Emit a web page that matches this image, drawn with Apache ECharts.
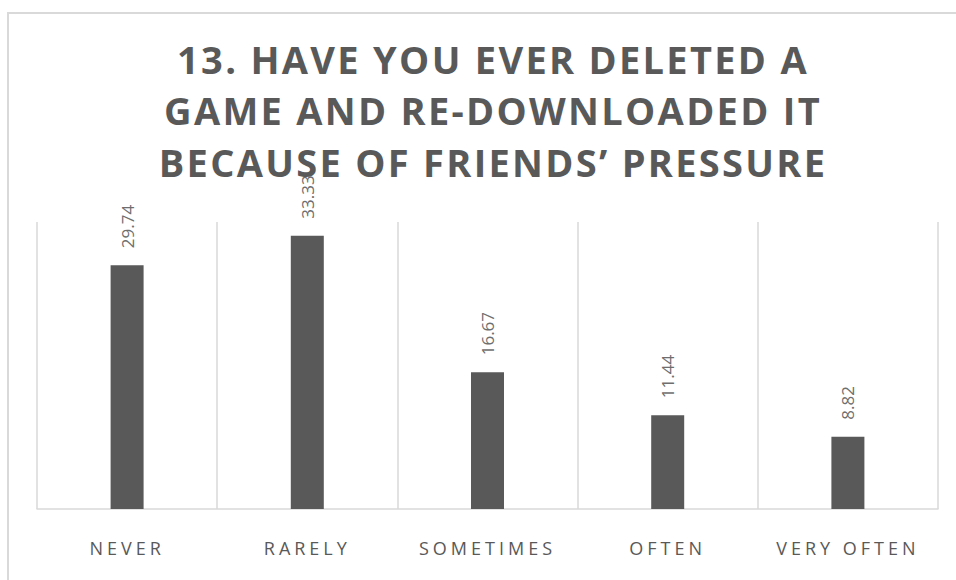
<!DOCTYPE html>
<html>
<head>
<meta charset="utf-8">
<script src="https://cdn.jsdelivr.net/npm/echarts@6/dist/echarts.min.js"></script>
<style>
html,body{margin:0;padding:0;background:#fff;}
#chart{width:956px;height:580px;}
</style>
</head>
<body>
<div id="chart"></div>
<script>
const titleLines = ["13. HAVE YOU EVER DELETED A", "GAME AND RE-DOWNLOADED IT", "BECAUSE OF FRIENDS\u2019 PRESSURE"];
const categories = ["NEVER", "RARELY", "SOMETIMES", "OFTEN", "VERY OFTEN"];
const values = [29.74, 33.33, 16.67, 11.44, 8.82];
const yMin = 0;
const yMax = 35;

const chart = echarts.init(document.getElementById('chart'), null, {renderer: 'svg'});
chart.setOption({
  animation: false,
  backgroundColor: '#ffffff',
  title: {
    text: titleLines.join('\n'),
    left: 488,
    top: 28,
    textAlign: 'center',
    textStyle: {
      fontFamily: 'Open Sans',
      fontWeight: 'bold',
      fontSize: 38,
      lineHeight: 51.5,
      color: '#595959'
    }
  },
  graphic: [{
    type: 'rect',
    shape: {x: 8, y: 13, width: 1200, height: 1200},
    style: {fill: 'none', stroke: '#d9d9d9', lineWidth: 2},
    silent: true,
    z: -1
  }],
  grid: {left: 37, right: 18, top: 222, bottom: 71},
  xAxis: {
    type: 'category',
    data: categories,
    axisLine: {show: true, lineStyle: {color: '#d9d9d9', width: 1.5}},
    axisTick: {show: false},
    splitLine: {show: true, lineStyle: {color: '#d9d9d9', width: 1.5}},
    axisLabel: {
      color: '#595959',
      fontFamily: 'Open Sans',
      fontSize: 18,
      margin: 30
    }
  },
  yAxis: {
    type: 'value',
    min: yMin,
    max: yMax,
    show: false,
    splitLine: {show: false}
  },
  series: [{
    type: 'bar',
    data: values,
    barWidth: 33,
    itemStyle: {color: '#595959'},
    label: {
      show: true,
      position: 'top',
      rotate: 90,
      align: 'left',
      verticalAlign: 'middle',
      distance: 17,
      color: '#6e6e6e',
      fontFamily: 'Open Sans',
      fontSize: 17,
      formatter: p => p.value.toFixed(2)
    }
  }]
});

function applySpacing() {
  const texts = document.querySelectorAll('#chart svg text');
  texts.forEach(t => {
    const s = t.textContent;
    if (titleLines.indexOf(s) >= 0) {
      t.style.letterSpacing = '2.3px';
    } else if (categories.indexOf(s) >= 0) {
      t.style.letterSpacing = '4px';
    }
  });
}
applySpacing();
chart.on('finished', applySpacing);
</script>
</body>
</html>
